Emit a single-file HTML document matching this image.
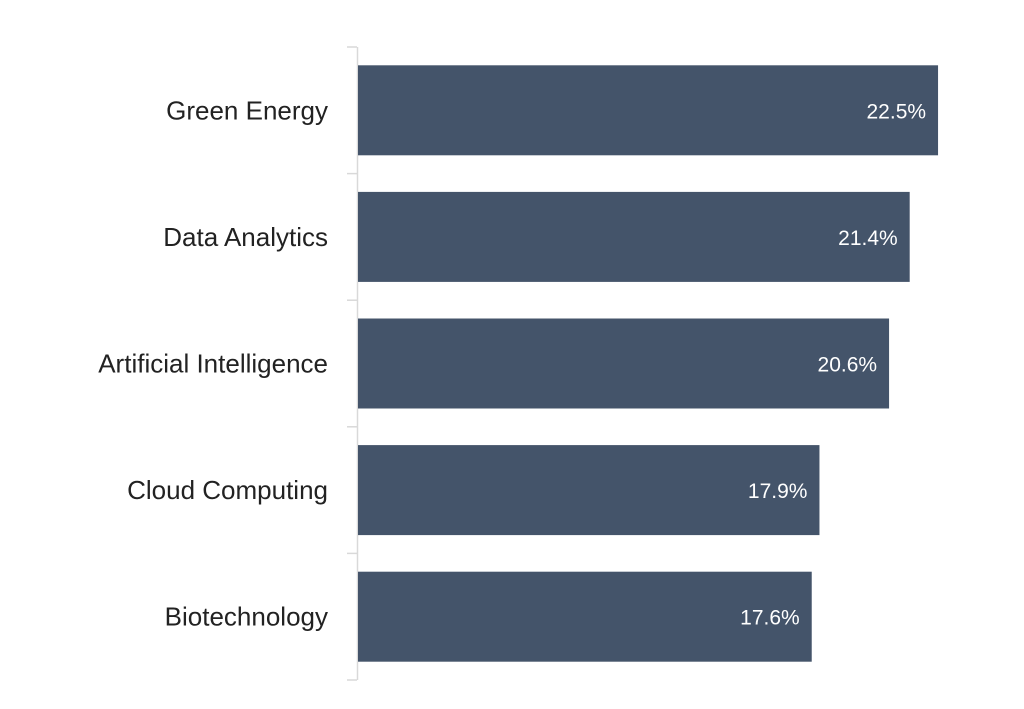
<!DOCTYPE html>
<html><head><meta charset="utf-8"><style>
body{margin:0;background:#fff;}
svg{display:block;font-family:"Liberation Sans",sans-serif;}
</style></head><body>
<svg id="chart" width="1024" height="709"></svg>
<script>
const categories=["Green Energy","Data Analytics","Artificial Intelligence","Cloud Computing","Biotechnology"];
const values=[22.5,21.4,20.6,17.9,17.6];
const valueLabels=["22.5%","21.4%","20.6%","17.9%","17.6%"];
const NS="http://www.w3.org/2000/svg";
const svg=document.getElementById("chart");
const x0=358, pxPerUnit=25.78, yTop=47, yBot=680;
const band=(yBot-yTop)/categories.length;
const barH=90;
function xs(v){return x0+v*pxPerUnit;}
function yb(i){return yTop+i*band;}
function mk(t,a){const e=document.createElementNS(NS,t);for(const k in a)e.setAttribute(k,a[k]);svg.appendChild(e);return e;}
const axis=mk("line",{x1:357.5,x2:357.5,y1:yTop,y2:yBot,stroke:"#d9d9d9","stroke-width":1.5});


for(let i=0;i<=categories.length;i++){
  const t=mk("line",{x1:347,x2:357,y1:yb(i),y2:yb(i),stroke:"#d9d9d9","stroke-width":1.5});
  
  
}
categories.forEach((c,i)=>{
  const cy=yb(i)+band/2;
  const r=mk("rect",{x:x0,y:cy-barH/2,width:xs(values[i])-x0,height:barH,fill:"#44546a"});
  
  
  const l=mk("text",{x:328,y:cy+9,"text-anchor":"end","font-size":26,fill:"#222"});
  l.textContent=c;
  
  
  const v=mk("text",{x:xs(values[i])-12,y:cy+8,"text-anchor":"end","font-size":21,fill:"#fff"});
  v.textContent=valueLabels[i];
  
  
});
</script>
</body></html>
